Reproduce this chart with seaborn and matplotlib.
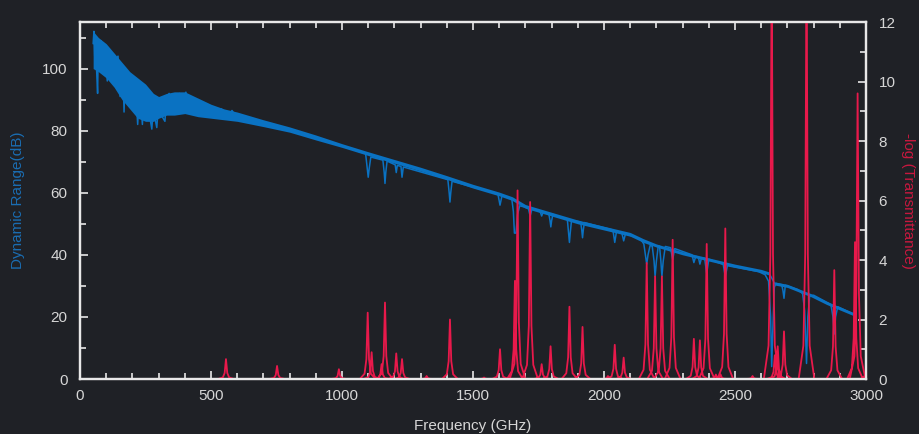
import numpy as np
import matplotlib
matplotlib.use("Agg")
import matplotlib.pyplot as plt
from matplotlib.ticker import MultipleLocator
import seaborn as sns

# Dynamic range noise band (GHz, dB lower / upper envelope)
band_freq = [50, 70, 100, 130, 160, 190, 220, 250, 280, 300, 330, 360, 400, 450,
             500, 550, 600, 700, 800, 900, 1000, 1100, 1200, 1300, 1400, 1500,
             1600, 1650, 1700, 1800, 1900, 2000, 2100, 2150, 2200, 2300, 2400,
             2500, 2600, 2630, 2650, 2700, 2760, 2790, 2850, 2950]
band_lo = [100, 99, 97, 94, 90, 87, 84, 83, 83, 84, 85, 85, 85.5, 84.5,
           84, 83.5, 83, 81.3, 79.5, 77, 74.6, 72, 69.5, 67, 64.3, 61.5,
           59, 57.5, 55, 52.5, 50, 48, 46, 44, 42.5, 40, 38,
           36, 34.3, 33.5, 30.3, 29.5, 27.5, 26.5, 24, 20.5]
band_hi = [112, 110, 108, 105, 102, 99, 97, 95, 92, 91, 92, 92.5, 92.5, 90.5,
           88.5, 87, 86, 83.5, 81.2, 78.6, 75.8, 73.2, 70.7, 68.2, 65.5, 62.7,
           60.2, 58.7, 56.2, 53.7, 51.2, 49.2, 47.2, 45.2, 43.5, 41, 39,
           37, 35.3, 34.5, 31.3, 30.5, 28.5, 27.5, 25, 21.5]

# Dynamic range trace with noise spikes and absorption dips
dr_freq = [50, 53, 56, 60, 63, 67, 70, 75, 80, 88, 92, 98, 104, 108, 115, 122,
           130, 138, 145, 153, 158, 163, 168, 172, 180, 190, 200, 210, 220, 226,
           232, 238, 244, 252, 260, 267, 274, 280, 286, 293, 300, 310, 324, 330,
           340, 350, 360, 370, 380, 390, 404, 415, 430, 445, 460, 480, 500, 520,
           540, 560, 580, 600, 650, 700, 800, 900, 1000,
           1090, 1096, 1100, 1104, 1110, 1156, 1161, 1164, 1167, 1172, 1203, 1207,
           1211, 1225, 1229, 1234, 1404, 1409, 1412, 1415, 1420, 1595, 1603, 1611,
           1648, 1654, 1658, 1664, 1670, 1678, 1711, 1718, 1725, 1756, 1762, 1768,
           1789, 1794, 1797, 1800, 1805, 1860, 1865, 1868, 1871, 1876, 1911, 1915,
           1918, 1921, 1925, 2034, 2041, 2048, 2068, 2075, 2082, 2140, 2152, 2158,
           2163, 2168, 2176, 2184, 2191, 2195, 2200, 2207, 2212, 2217, 2221, 2226,
           2234, 2254, 2262, 2270, 2336, 2343, 2350, 2360, 2366, 2372, 2384, 2392,
           2400, 2455, 2463, 2471, 2590, 2615, 2628, 2636, 2640, 2644, 2650, 2656,
           2678, 2683, 2687, 2692, 2740, 2758, 2766, 2773, 2778, 2785, 2800, 2866,
           2874, 2879, 2884, 2892, 2950]
dr_db = [108, 112, 104, 109, 100, 92, 108, 104, 109, 99, 107, 102, 96, 106, 101, 104,
         98, 103, 104, 91, 99, 101, 86, 97, 93, 96, 90, 97, 82, 92,
         89, 82, 91, 86, 90, 84, 80.5, 88, 84, 81, 89, 85, 83, 90,
         92, 87, 91, 86, 92, 87, 92.4, 87, 90, 86, 89, 85, 88, 85,
         87, 84, 86.5, 84, 84, 82, 80, 77.8, 75,
         72.6, 68, 65, 68, 71.5, 70.5, 66.5, 63, 66.5, 70.2, 69, 66.5,
         68.8, 68.5, 65, 68.3, 64.2, 60, 57, 60, 63.7, 59.6, 56, 59.2,
         58, 54, 47, 47, 53, 55.8, 55.1, 52.5, 54.8, 54, 52.5, 53.8,
         53.4, 51, 49, 51, 53, 51.4, 47, 44, 47, 51.1, 50.6, 48,
         45.5, 48, 50.4, 48, 44, 47.7, 47.1, 44.5, 46.8, 45, 43.5, 40,
         37, 40, 43, 42.8, 38, 33, 38, 42.8, 42.8, 38, 33, 38,
         42.7, 42.3, 38.5, 42, 40, 37.5, 39.5, 39.3, 37, 39, 38.9, 34,
         38.6, 36.9, 33, 36.5, 34.6, 33.6, 31.5, 20, 4, 15, 29.5, 30.8,
         30.4, 28.5, 26, 30.2, 28.8, 27.5, 22, 5, 20, 26.8, 27, 24,
         20, 14.5, 20, 23.3, 21]

# Absorption lines: centre (GHz) and -log(T) peak height
peak_freq = [557, 752, 988, 1098, 1113, 1151, 1164, 1207, 1229, 1323, 1412, 1542,
             1603, 1660, 1670, 1718, 1762, 1796, 1868, 1918, 2015, 2041, 2075,
             2163, 2195, 2221, 2262, 2343, 2366, 2392, 2427, 2445, 2463, 2567,
             2640, 2652, 2663, 2687, 2773, 2879, 2958, 2968, 3010]
peak_height = [0.67, 0.44, 0.33, 2.23, 0.9, 0.5, 2.57, 0.86, 0.67, 0.1, 2.0, 0.05,
               1.0, 3.3, 6.34, 5.95, 0.5, 1.1, 2.43, 1.75, 0.1, 1.15, 0.72,
               3.9, 3.45, 3.45, 4.68, 1.35, 1.3, 4.54, 0.15, 0.15, 5.06, 0.1,
               14, 0.8, 1.1, 1.6, 14, 3.66, 4.6, 9.6, 1.5]

BG = "#1f2126"
BLUE = "#0a72c2"
RED = "#e8194b"
FG = "#e8e8e8"
TXT = "#d6d6d6"

sns.set_theme(style="ticks")
plt.rcParams["font.family"] = ["Liberation Sans", "DejaVu Sans"]
plt.rcParams["axes.facecolor"] = BG
plt.rcParams["figure.facecolor"] = BG

# outline drawn around every line centre (GHz offset, fraction of height)
shape_dx = [-30, -12, -5, -2.5, 0, 2.5, 5, 12, 30]
shape_fr = [0.0, 0.08, 0.3, 0.66, 1.0, 0.66, 0.3, 0.08, 0.0]
tx, ty = [0], [0]
for c, h in zip(peak_freq, peak_height):
    tx += [c + d for d in shape_dx]
    ty += [h * f for f in shape_fr]

fig = plt.figure(figsize=(9.2, 4.34), dpi=100)
ax = fig.add_axes([0.087, 0.1267, 0.8543, 0.8226])

ax.fill_between(band_freq, band_lo, band_hi, color=BLUE, lw=0)
sns.lineplot(x=dr_freq, y=dr_db, ax=ax, color=BLUE, lw=1.1,
             estimator=None, sort=False)

ax2 = ax.twinx()
sns.lineplot(x=tx, y=ty, ax=ax2, color=RED, lw=1.3,
             estimator=None, sort=False)

ax.set_xlim(0, 3000)
ax.set_ylim(0, 115)
ax2.set_ylim(0, 12)

ax.xaxis.set_major_locator(MultipleLocator(500))
ax.xaxis.set_minor_locator(MultipleLocator(100))
ax.yaxis.set_major_locator(MultipleLocator(20))
ax.yaxis.set_minor_locator(MultipleLocator(10))
ax2.yaxis.set_major_locator(MultipleLocator(2))
ax2.yaxis.set_minor_locator(MultipleLocator(1))

ax.tick_params(axis="x", which="both", direction="in", top=True, bottom=True,
               color=FG, labelcolor=TXT, labelsize=11, pad=7)
ax.tick_params(axis="y", which="both", direction="in", left=True, right=False,
               color=FG, labelcolor=TXT, labelsize=11, pad=9)
ax2.tick_params(axis="y", which="both", direction="in", right=True,
                color=FG, labelcolor=TXT, labelsize=11, pad=9)
for a in (ax, ax2):
    a.tick_params(which="major", length=6, width=1.2)
    a.tick_params(which="minor", length=4, width=1.2)
    for s in a.spines.values():
        s.set_color(FG)
        s.set_linewidth(1.6)

ax.set_xlabel("Frequency (GHz)", color=TXT, fontsize=11, labelpad=12)
ax.set_ylabel("Dynamic Range(dB)", color="#1a6db2", fontsize=11, labelpad=12)
ax2.set_ylabel("-log (Transmittance)", color="#c8183f", fontsize=11,
               rotation=270, labelpad=14)

fig.savefig("out.png", dpi=100, facecolor=BG)
